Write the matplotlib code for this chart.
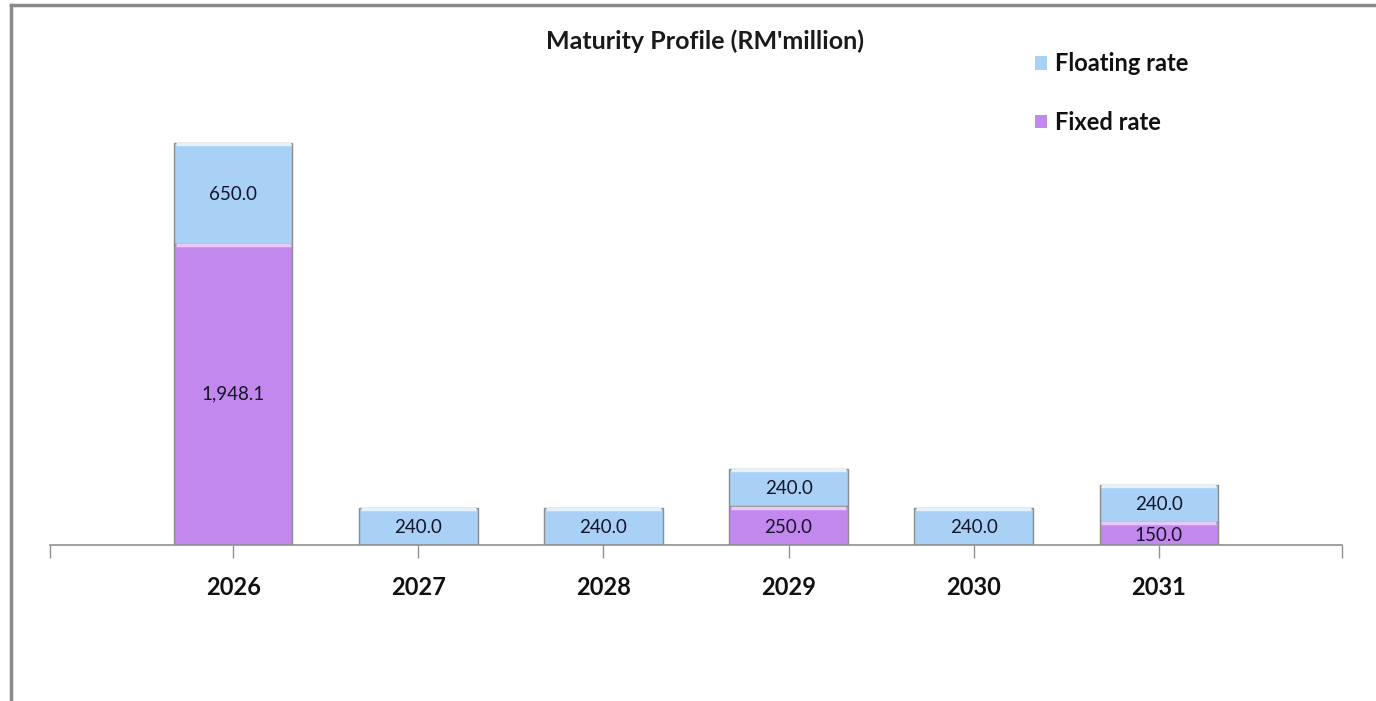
import matplotlib
matplotlib.use("Agg")
import matplotlib.pyplot as plt
from matplotlib.lines import Line2D
import numpy as np

years = ["2026", "2027", "2028", "2029", "2030", "2031"]
fixed_rate = [1948.1, 0.0, 0.0, 250.0, 0.0, 150.0]
floating_rate = [650.0, 240.0, 240.0, 240.0, 240.0, 240.0]
title = "Maturity Profile (RM'million)"

plt.rcParams['font.family'] = ['Lato', 'DejaVu Sans']

W, H = 1376, 701
fig = plt.figure(figsize=(W / 100, H / 100), dpi=100)
fig.patch.set_facecolor("white")

ax_left, ax_right = 50 / W, 1342 / W
ax_bottom = (H - 545) / H
ymax = 2800
px_per_unit = 402 / 2598.1
ax_height = ymax * px_per_unit / H
ax = fig.add_axes([ax_left, ax_bottom, ax_right - ax_left, ax_height])

x = np.arange(len(years))
fixed_color = "#C388EE"
float_color = "#A9D0F5"
edge = "#8c8c8c"
bw = 0.64

b_fixed = ax.bar(x, fixed_rate, width=bw, color=fixed_color, edgecolor=edge, linewidth=1.0,
                 label="Fixed rate", zorder=2)
b_float = ax.bar(x, floating_rate, width=bw, bottom=fixed_rate, color=float_color,
                 edgecolor=edge, linewidth=1.0, label="Floating rate", zorder=2)

# light highlight stripe at top of each segment
for f, fl, xi in zip(fixed_rate, floating_rate, x):
    if f > 0:
        ax.plot([xi - bw / 2 + 0.01, xi + bw / 2 - 0.01], [f - 8, f - 8], color="#EBC8FA",
                lw=2.5, zorder=3, solid_capstyle="butt")
    ax.plot([xi - bw / 2 + 0.01, xi + bw / 2 - 0.01], [f + fl - 8, f + fl - 8], color="#E4F2FD",
            lw=2.5, zorder=3, solid_capstyle="butt")

for xi, f, fl in zip(x, fixed_rate, floating_rate):
    if f > 0:
        lab = f"{f:,.1f}"
        ax.text(xi, f / 2 - (14 if f < 300 else 0), lab, ha="center", va="center",
                fontsize=13.5, color="#14142a", zorder=4)
    ax.text(xi, f + fl / 2 - 8, f"{fl:,.1f}", ha="center", va="center",
            fontsize=13.5, color="#14142a", zorder=4)

ax.set_xlim(-0.99, 5.99)
ax.set_ylim(0, ymax)
ax.set_xticks(x)
ax.set_xticklabels(years, fontsize=17, fontweight="bold", color="#111111")
ax.set_xticks([-0.99, 5.99], minor=True)
ax.tick_params(axis="x", which="both", length=9, color="#909090", width=1, pad=13)
ax.set_yticks([])
for s in ["top", "right", "left"]:
    ax.spines[s].set_visible(False)
ax.spines["bottom"].set_color("#909090")
ax.spines["bottom"].set_linewidth(1.2)
ax.set_facecolor("none")

fig.text(705 / W, 1 - 41 / H, title, ha="center", va="center", fontsize=18,
         fontweight="bold", color="#1a1a1a")

leg = fig.legend([b_float, b_fixed], ["Floating rate", "Fixed rate"],
                 loc="upper left", bbox_to_anchor=(1014 / W, 1 - 31 / H),
                 frameon=False, handlelength=0.5, handleheight=0.5,
                 handletextpad=0.35, labelspacing=1.5,
                 prop={"size": 17, "weight": "bold"})
for t in leg.get_texts():
    t.set_color("#111111")
for h in leg.legend_handles:
    h.set_edgecolor("none")

# outer frame (top and left)
fig.add_artist(Line2D([11 / W, 1.0], [1 - 5 / H, 1 - 5 / H], color="#8a8a8a", lw=2.5,
                      transform=fig.transFigure))
fig.add_artist(Line2D([11 / W, 11 / W], [0, 1 - 5 / H], color="#8a8a8a", lw=2.5,
                      transform=fig.transFigure))

fig.savefig("out.png", dpi=100)
